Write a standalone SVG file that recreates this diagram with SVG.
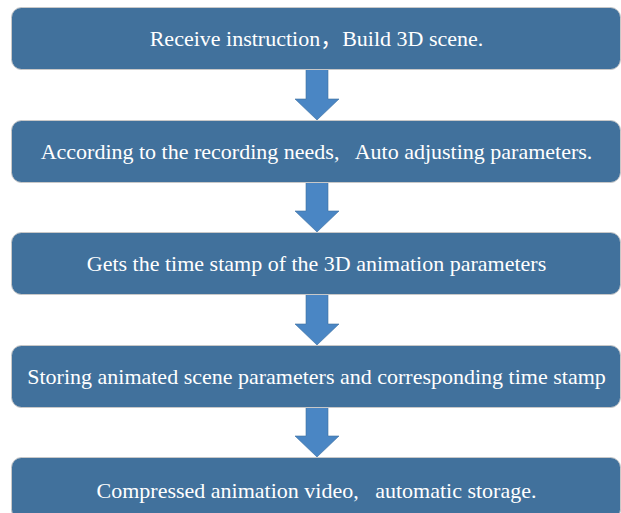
<svg xmlns="http://www.w3.org/2000/svg" width="621" height="513" viewBox="0 0 621 513">
<defs>
<style>
.box{fill:#41719C;stroke:#C8C8C8;stroke-width:1}
.lbl{fill:#FFFFFF;font-family:"Liberation Serif","Times New Roman",serif;font-size:22px;text-anchor:middle;white-space:pre}
.cjk{font-family:"Noto Sans CJK SC",sans-serif}
.arr{fill:#4A86C4;stroke:#3D6F9F;stroke-width:0.6}
</style>
</defs>
<rect width="621" height="513" fill="#FFFFFF"/>
<g id="connectors">
<polygon class="arr" points="306,69 328,69 328,99 339,99 317,120 295,99 306,99"/>
<polygon class="arr" points="306,182 328,182 328,211 339,211 317,232 295,211 306,211"/>
<polygon class="arr" points="306,294 328,294 328,324 339,324 317,345 295,324 306,324"/>
<polygon class="arr" points="306,407 328,407 328,436 339,436 317,457 295,436 306,436"/>
</g>
<g id="n1"><rect class="box" x="11.5" y="7.5" width="609" height="62" rx="10"/><text class="lbl" x="316.5" y="46" xml:space="preserve">Receive instruction<tspan class="cjk">，</tspan>Build 3D scene.</text></g>
<g id="n2"><rect class="box" x="11.5" y="120.5" width="609" height="62" rx="10"/><text class="lbl" x="316.5" y="159" xml:space="preserve">According to the recording needs,   Auto adjusting parameters.</text></g>
<g id="n3"><rect class="box" x="11.5" y="232.5" width="609" height="62" rx="10"/><text class="lbl" x="316.5" y="271" xml:space="preserve">Gets the time stamp of the 3D animation parameters</text></g>
<g id="n4"><rect class="box" x="11.5" y="345.5" width="609" height="62" rx="10"/><text class="lbl" x="316.5" y="384" xml:space="preserve">Storing animated scene parameters and corresponding time stamp</text></g>
<g id="n5"><rect class="box" x="11.5" y="457.5" width="609" height="62" rx="10"/><text class="lbl" x="316.5" y="498" xml:space="preserve">Compressed animation video,   automatic storage.</text></g>
</svg>
